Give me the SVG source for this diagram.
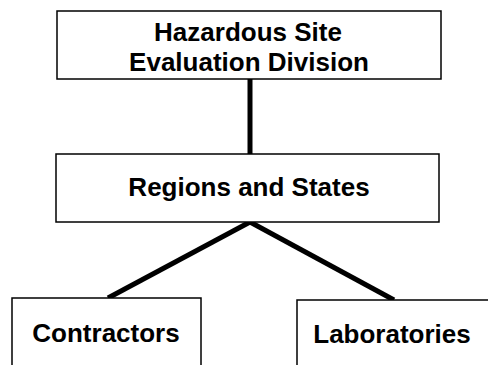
<svg xmlns="http://www.w3.org/2000/svg" width="488" height="365" viewBox="0 0 488 365">
<style>
.box{fill:#fff;stroke:#000;stroke-width:1.5}
.lbl{font-family:"Liberation Sans",Arial,sans-serif;font-weight:bold;font-size:26px;fill:#000;text-anchor:middle}
.conn{stroke:#000;stroke-width:5;fill:none}
</style>
<rect width="488" height="365" fill="#fff"/>
<g id="connectors">
<line class="conn" x1="250" y1="79" x2="250" y2="154"/>
<line class="conn" x1="250" y1="222" x2="108" y2="298"/>
<line class="conn" x1="250" y1="222" x2="394" y2="300"/>
</g>
<g id="hsed">
<rect class="box" x="57" y="11" width="384" height="68"/>
<text class="lbl" x="248" y="41">Hazardous Site</text>
<text class="lbl" x="249" y="71">Evaluation Division</text>
</g>
<g id="regions">
<rect class="box" x="56" y="154" width="383" height="68"/>
<text class="lbl" x="249" y="196">Regions and States</text>
</g>
<g id="contractors">
<rect class="box" x="12" y="298" width="189" height="80"/>
<text class="lbl" x="106" y="342">Contractors</text>
</g>
<g id="laboratories">
<rect class="box" x="297" y="300" width="200" height="80"/>
<text class="lbl" x="392" y="343">Laboratories</text>
</g>
</svg>
